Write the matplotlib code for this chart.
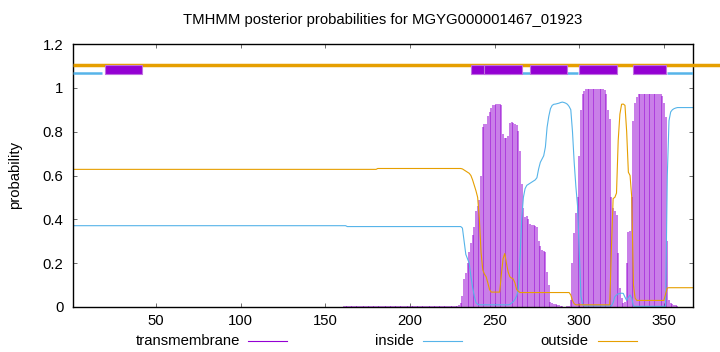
import matplotlib
matplotlib.use("Agg")
import matplotlib.pyplot as plt
from matplotlib.lines import Line2D
from matplotlib.patches import Rectangle

plt.rcParams['font.family'] = ['Liberation Sans', 'DejaVu Sans']

title = "TMHMM posterior probabilities for MGYG000001467_01923"
seq_len = 367
residues = list(range(1, seq_len + 1))

# posterior probabilities per residue
tm = ([0.0] * 160 + [0.003] * 67 +
      [0.005, 0.01, 0.02,
       0.05, 0.13, 0.155, 0.20, 0.25, 0.29, 0.33, 0.365, 0.44, 0.46,
       0.49, 0.60, 0.82, 0.835, 0.835, 0.87, 0.888, 0.91, 0.92, 0.923,
       0.925, 0.925, 0.925, 0.923, 0.79, 0.77, 0.77, 0.78, 0.84, 0.845,
       0.84, 0.835, 0.83, 0.805, 0.71, 0.56, 0.45, 0.41, 0.415, 0.40,
       0.38, 0.375, 0.375, 0.37, 0.365, 0.30, 0.28, 0.26, 0.255, 0.25,
       0.16, 0.10, 0.024, 0.018, 0.015, 0.012, 0.01, 0.008, 0.005, 0.003,
       0.002, 0.002, 0.003, 0.005, 0.03, 0.20, 0.336, 0.43, 0.50, 0.69,
       0.90, 0.97, 0.985] +
      [0.995] * 11 +
      [0.99, 0.97, 0.90, 0.857, 0.50, 0.45, 0.44, 0.42, 0.245, 0.086,
       0.04, 0.02, 0.025, 0.20, 0.34, 0.345, 0.50, 0.85, 0.93, 0.956] +
      [0.97] * 14 +
      [0.965, 0.93, 0.865, 0.30, 0.03, 0.02, 0.015, 0.01, 0.008, 0.005] +
      [0.0] * 9)

inside = ([0.371] * 162 + [0.367] * 68 +
          [0.36, 0.30, 0.24, 0.22, 0.20, 0.14, 0.09, 0.05, 0.02, 0.012] +
          [0.01] * 18 +
          [0.012, 0.018, 0.024, 0.035, 0.05, 0.08, 0.22, 0.40, 0.50, 0.54, 0.555, 0.56,
           0.565, 0.57, 0.575, 0.58, 0.59, 0.63, 0.66, 0.675, 0.69, 0.73,
           0.82, 0.87, 0.905, 0.92, 0.925, 0.926, 0.928, 0.93, 0.933, 0.935,
           0.933, 0.93, 0.925, 0.915, 0.90, 0.80, 0.66, 0.55, 0.46, 0.25,
           0.05, 0.01] +
          [0.005] * 17 +
          [0.02, 0.047, 0.055, 0.06, 0.062, 0.063, 0.062, 0.045, 0.03, 0.045, 0.055,
           0.04, 0.005] +
          [0.003] * 19 +
          [0.60, 0.85, 0.89, 0.90, 0.905, 0.908] +
          [0.91] * 10)

outside = ([0.628] * 180 + [0.632] * 50 +
           [0.63, 0.625, 0.62, 0.615, 0.61, 0.60, 0.58, 0.555, 0.53, 0.50,
            0.40, 0.25, 0.17, 0.15, 0.138, 0.11, 0.08] +
           [0.068] * 6 +
           [0.15, 0.22, 0.244, 0.20, 0.16, 0.138, 0.132, 0.128, 0.11, 0.08, 0.072] +
           [0.066] * 30 +
           [0.055, 0.03, 0.015] +
           [0.01] * 21 +
           [0.27, 0.495, 0.50, 0.52, 0.76, 0.88, 0.925, 0.926, 0.92, 0.80,
            0.615, 0.60, 0.50, 0.10, 0.04] +
           [0.03] * 17 +
           [0.06, 0.087] +
           [0.088] * 15)

# predicted topology shown above the curves
inside_segments = [(1, 18), (266, 299), (352, 367)]
tm_segments = [(20, 42), (236, 259), (244, 266), (271, 293), (300, 322), (332, 351)]

c_tm = '#9400d3'
c_in = '#56b4e9'
c_out = '#e69f00'
fs = 10.7

fig = plt.figure(figsize=(7.2, 3.52), dpi=100)
ax = fig.add_axes([73 / 720, 1 - 307 / 352, 619.7 / 720, 263 / 352])

ax.vlines(residues, 0, tm, colors=c_tm, lw=1.1, alpha=0.65)
ax.plot(residues, inside, color=c_in, lw=0.8)
ax.plot(residues, outside, color=c_out, lw=0.8)

ax.plot([1, 390], [1.105, 1.105], color=c_out, lw=2.5, clip_on=False,
        solid_capstyle='butt', zorder=3)
for a, b in inside_segments:
    ax.plot([a, b], [1.067, 1.067], color=c_in, lw=1.8, solid_capstyle='butt', zorder=3)
for a, b in tm_segments:
    ax.add_patch(Rectangle((a, 1.062), b - a, 0.043, facecolor=c_tm,
                           edgecolor='#c070e0', lw=0.8, zorder=4))

ax.set_xlim(1, seq_len)
ax.set_ylim(0, 1.2)
ax.set_xticks([50, 100, 150, 200, 250, 300, 350])
ax.set_yticks([0, 0.2, 0.4, 0.6, 0.8, 1.0, 1.2])
ax.set_yticklabels(['0', '0.2', '0.4', '0.6', '0.8', '1', '1.2'])
ax.tick_params(direction='in', top=True, right=True, length=3, width=0.6,
               color='#555555', labelsize=fs)
ax.tick_params(axis='y', pad=7)
ax.tick_params(axis='x', pad=5)
for s in ax.spines.values():
    s.set_linewidth(1.0)

fig.text(382.5 / 720, 1 - 20 / 352, title, ha='center', va='center', fontsize=fs)
fig.text(15 / 720, 1 - 175 / 352, 'probability', rotation=90,
         ha='center', va='center', fontsize=fs)

legend_items = [('transmembrane', c_tm, 240, 248), ('inside', c_in, 414, 423),
                ('outside', c_out, 588, 598)]
ly = 1 - 341 / 352
for label, col, tx, lx in legend_items:
    fig.text(tx / 720, ly, label, ha='right', va='center', fontsize=fs)
    fig.add_artist(Line2D([lx / 720, (lx + 39) / 720], [ly, ly], color=col, lw=0.8))

fig.savefig('out.png', dpi=100)
